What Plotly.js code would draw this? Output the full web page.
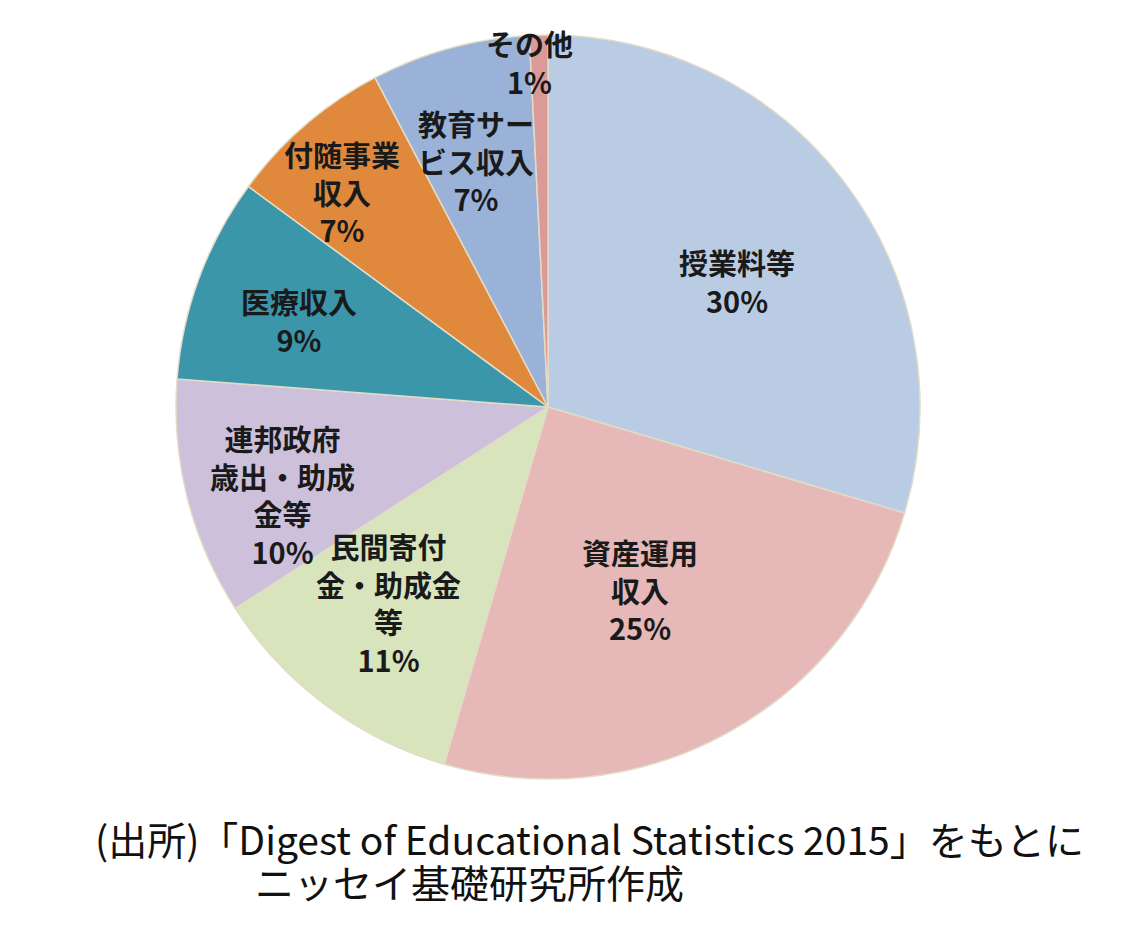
<!DOCTYPE html>
<html>
<head>
<meta charset="utf-8">
<script src="https://cdn.plot.ly/plotly-3.0.1.min.js"></script>
<style>html,body{margin:0;padding:0;background:#fff;}#chart{width:1125px;height:939px;}</style>
</head>
<body>
<div id="chart"></div>
<script>
// Data
const categories = ['授業料等', '資産運用収入', '民間寄付金・助成金等', '連邦政府歳出・助成金等', '医療収入', '付随事業収入', '教育サービス収入', 'その他'];
const labelLines = ['授業料等', '資産運用<br>収入', '民間寄付<br>金・助成金<br>等', '連邦政府<br>歳出・助成<br>金等', '医療収入', '付随事業<br>収入', '教育サー<br>ビス収入', 'その他'];
const values = [29.6, 24.9, 11.4, 10.3, 8.9, 7.2, 6.9, 0.8];
const sourceLine1 = '(出所)「Digest of Educational Statistics 2015」をもとに';
const sourceLine2 = 'ニッセイ基礎研究所作成';

// Styles
const colors = ['#b9cce4', '#e6b8b7', '#d8e4bc', '#ccc0da', '#3b96aa', '#e0893d', '#9ab2d8', '#d99a98'];
const labelRadius = [0.61, 0.55, 0.68, 0.75, 0.71, 0.80, 0.69, 0.93];
const labelAngleShift = [3, 2, 2.5, -4, -1, -3, -1, -1.6];

const W = 1125, H = 939;
const cx = 548, cy = 407, R = 372;

const total = values.reduce((a, b) => a + b, 0);
const annotations = [];
let cum = 0;
values.forEach((v, i) => {
  const mid = (cum + v / 2) / total * 360 + labelAngleShift[i];
  cum += v;
  const th = mid * Math.PI / 180;
  const r = R * labelRadius[i];
  const px = cx + r * Math.sin(th);
  const py = cy - r * Math.cos(th);
  const pct = Math.round(v / total * 100) + '%';
  annotations.push({
    x: px / W, y: 1 - py / H, xref: 'paper', yref: 'paper',
    text: '<b>' + labelLines[i] + '<br>' + pct + '</b>',
    showarrow: false, xanchor: 'center', yanchor: 'middle',
    font: {family: 'Noto Sans CJK JP, sans-serif', size: 29, color: '#1a1a1a'}
  });
});

annotations.push({
  x: 93 / W, y: 1 - 838 / H, xref: 'paper', yref: 'paper',
  text: sourceLine1, showarrow: false, xanchor: 'left', yanchor: 'middle',
  font: {family: 'Noto Sans CJK JP, sans-serif', size: 39, color: '#111'}
});
annotations.push({
  x: 253 / W, y: 1 - 881 / H, xref: 'paper', yref: 'paper',
  text: sourceLine2, showarrow: false, xanchor: 'left', yanchor: 'middle',
  font: {family: 'Noto Sans CJK JP, sans-serif', size: 39, color: '#111'}
});

const trace = {
  type: 'pie',
  labels: categories,
  values: values,
  sort: false,
  direction: 'clockwise',
  rotation: 0,
  textinfo: 'none',
  hoverinfo: 'label+percent',
  marker: {colors: colors, line: {color: '#e2dcc6', width: 1.5}},
  domain: {x: [(cx - R) / W, (cx + R) / W], y: [1 - (cy + R) / H, 1 - (cy - R) / H]}
};

const layout = {
  width: W, height: H,
  margin: {l: 0, r: 0, t: 0, b: 0},
  showlegend: false,
  paper_bgcolor: '#ffffff',
  annotations: annotations
};

Plotly.newPlot('chart', [trace], layout, {displayModeBar: false, staticPlot: true});
</script>
</body>
</html>
